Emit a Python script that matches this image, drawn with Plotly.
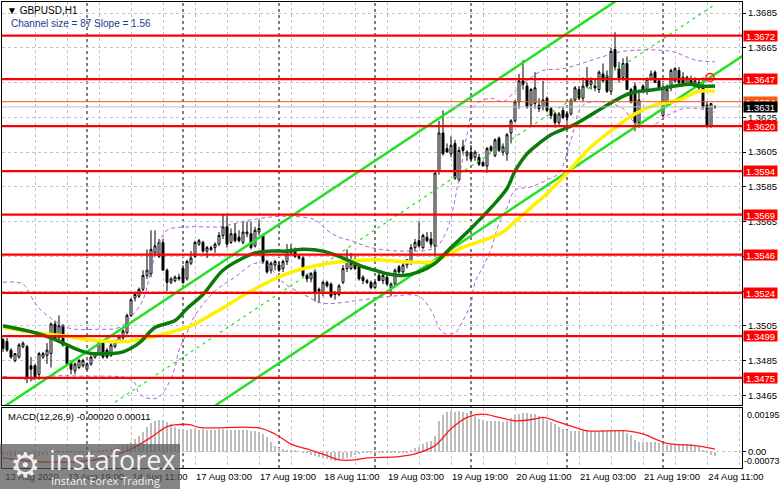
import plotly.graph_objects as go

# ---- data (GBPUSD H1, 13 Aug 03:00 .. 24 Aug 13:00) ----
opens = [1.3497, 1.3496, 1.3491, 1.3485, 1.3487, 1.3493, 1.3493, 1.3482, 1.3482, 1.3477,
         1.3487, 1.3488, 1.3489, 1.3506, 1.3498, 1.3505, 1.3493, 1.3484, 1.3479, 1.3481,
         1.3482, 1.3480, 1.3483, 1.3487, 1.3489, 1.3495, 1.3491, 1.3488, 1.3493, 1.3496,
         1.3498, 1.3501, 1.3511, 1.3521, 1.3522, 1.3526, 1.3534, 1.3535, 1.3547, 1.3545,
         1.3553, 1.3537, 1.3530, 1.3531, 1.3533, 1.3538, 1.3532, 1.3541, 1.3545, 1.3552,
         1.3553, 1.3548, 1.3550, 1.3550, 1.3552, 1.3557, 1.3562, 1.3553, 1.3558, 1.3556,
         1.3553, 1.3558, 1.3558, 1.3551, 1.3559, 1.3557, 1.3542, 1.3537, 1.3540, 1.3540,
         1.3538, 1.3542, 1.3547, 1.3549, 1.3544, 1.3544, 1.3534, 1.3532, 1.3536, 1.3526,
         1.3524, 1.3530, 1.3529, 1.3524, 1.3523, 1.3530, 1.3538, 1.3538, 1.3541, 1.3539,
         1.3533, 1.3530, 1.3530, 1.3527, 1.3534, 1.3531, 1.3533, 1.3527, 1.3529, 1.3539,
         1.3536, 1.3540, 1.3542, 1.3550, 1.3554, 1.3550, 1.3556, 1.3555, 1.3551, 1.3594,
         1.3616, 1.3607, 1.3604, 1.3610, 1.3589, 1.3608, 1.3603, 1.3605, 1.3602, 1.3602,
         1.3599, 1.3597, 1.3608, 1.3603, 1.3613, 1.3605, 1.3604, 1.3616, 1.3623, 1.3634,
         1.3646, 1.3643, 1.3632, 1.3633, 1.3632, 1.3631, 1.3636, 1.3630, 1.3627, 1.3622,
         1.3629, 1.3627, 1.3627, 1.3635, 1.3641, 1.3636, 1.3647, 1.3644, 1.3643, 1.3641,
         1.3650, 1.3649, 1.3640, 1.3664, 1.3653, 1.3648, 1.3656, 1.3641, 1.3643, 1.3622,
         1.3643, 1.3640, 1.3647, 1.3651, 1.3646, 1.3626, 1.3633, 1.3642, 1.3646, 1.3652,
         1.3648, 1.3644, 1.3647, 1.3644, 1.3645, 1.3643, 1.3632, 1.3620, 1.3631]
highs = [1.3498, 1.3498, 1.3492, 1.3489, 1.3495, 1.3496, 1.3494, 1.3487, 1.3483, 1.3490,
         1.3490, 1.3495, 1.3507, 1.3508, 1.3511, 1.3506, 1.3494, 1.3485, 1.3484, 1.3486,
         1.3486, 1.3484, 1.3488, 1.3489, 1.3497, 1.3496, 1.3492, 1.3495, 1.3497, 1.3500,
         1.3503, 1.3512, 1.3521, 1.3524, 1.3527, 1.3537, 1.3549, 1.3560, 1.3560, 1.3555,
         1.3555, 1.3538, 1.3533, 1.3534, 1.3535, 1.3540, 1.3543, 1.3548, 1.3554, 1.3555,
         1.3554, 1.3551, 1.3551, 1.3553, 1.3559, 1.3569, 1.3569, 1.3561, 1.3564, 1.3560,
         1.3565, 1.3565, 1.3565, 1.3562, 1.3566, 1.3558, 1.3543, 1.3542, 1.3543, 1.3542,
         1.3543, 1.3552, 1.3552, 1.3550, 1.3546, 1.3545, 1.3535, 1.3536, 1.3537, 1.3527,
         1.3531, 1.3531, 1.3530, 1.3525, 1.3529, 1.3540, 1.3549, 1.3547, 1.3545, 1.3540,
         1.3534, 1.3532, 1.3531, 1.3531, 1.3536, 1.3535, 1.3534, 1.3530, 1.3538, 1.3540,
         1.3541, 1.3543, 1.3552, 1.3555, 1.3565, 1.3558, 1.3559, 1.3559, 1.3593, 1.3623,
         1.3629, 1.3610, 1.3614, 1.3612, 1.3608, 1.3612, 1.3606, 1.3609, 1.3606, 1.3604,
         1.3600, 1.3608, 1.3609, 1.3613, 1.3614, 1.3610, 1.3616, 1.3624, 1.3635, 1.3650,
         1.3658, 1.3645, 1.3642, 1.3651, 1.3636, 1.3646, 1.3637, 1.3631, 1.3628, 1.3628,
         1.3631, 1.3628, 1.3636, 1.3643, 1.3643, 1.3648, 1.3654, 1.3648, 1.3647, 1.3652,
         1.3656, 1.3652, 1.3665, 1.3674, 1.3657, 1.3659, 1.3660, 1.3642, 1.3645, 1.3641,
         1.3644, 1.3648, 1.3652, 1.3652, 1.3647, 1.3644, 1.3644, 1.3653, 1.3654, 1.3654,
         1.3651, 1.3649, 1.3649, 1.3648, 1.3647, 1.3648, 1.3634, 1.3633, 1.3632]
lows = [1.3490, 1.3490, 1.3486, 1.3484, 1.3486, 1.3492, 1.3472, 1.3473, 1.3474, 1.3474,
        1.3486, 1.3483, 1.3481, 1.3496, 1.3497, 1.3493, 1.3482, 1.3477, 1.3477, 1.3480,
        1.3481, 1.3480, 1.3482, 1.3486, 1.3488, 1.3486, 1.3486, 1.3487, 1.3492, 1.3495,
        1.3497, 1.3500, 1.3510, 1.3519, 1.3521, 1.3525, 1.3532, 1.3533, 1.3545, 1.3544,
        1.3537, 1.3525, 1.3529, 1.3530, 1.3531, 1.3529, 1.3531, 1.3540, 1.3544, 1.3551,
        1.3547, 1.3544, 1.3548, 1.3547, 1.3551, 1.3555, 1.3550, 1.3552, 1.3553, 1.3553,
        1.3552, 1.3556, 1.3549, 1.3550, 1.3557, 1.3541, 1.3535, 1.3535, 1.3537, 1.3536,
        1.3536, 1.3540, 1.3546, 1.3544, 1.3543, 1.3533, 1.3530, 1.3530, 1.3519, 1.3518,
        1.3522, 1.3527, 1.3521, 1.3520, 1.3522, 1.3529, 1.3536, 1.3537, 1.3537, 1.3531,
        1.3529, 1.3529, 1.3526, 1.3526, 1.3531, 1.3529, 1.3528, 1.3522, 1.3528, 1.3535,
        1.3535, 1.3538, 1.3540, 1.3548, 1.3550, 1.3549, 1.3553, 1.3550, 1.3545, 1.3592,
        1.3603, 1.3605, 1.3602, 1.3589, 1.3588, 1.3604, 1.3600, 1.3600, 1.3600, 1.3597,
        1.3597, 1.3593, 1.3605, 1.3602, 1.3605, 1.3603, 1.3600, 1.3610, 1.3622, 1.3630,
        1.3641, 1.3630, 1.3620, 1.3630, 1.3628, 1.3629, 1.3628, 1.3624, 1.3619, 1.3620,
        1.3624, 1.3622, 1.3626, 1.3634, 1.3635, 1.3634, 1.3642, 1.3641, 1.3640, 1.3639,
        1.3645, 1.3639, 1.3638, 1.3652, 1.3645, 1.3646, 1.3641, 1.3633, 1.3617, 1.3619,
        1.3639, 1.3638, 1.3646, 1.3645, 1.3641, 1.3625, 1.3632, 1.3640, 1.3645, 1.3644,
        1.3644, 1.3643, 1.3643, 1.3642, 1.3640, 1.3630, 1.3619, 1.3619, 1.3630]
closes = [1.3492, 1.3491, 1.3487, 1.3489, 1.3494, 1.3495, 1.3475, 1.3480, 1.3475, 1.3489,
          1.3489, 1.3491, 1.3506, 1.3497, 1.3505, 1.3494, 1.3483, 1.3480, 1.3483, 1.3485,
          1.3485, 1.3483, 1.3487, 1.3489, 1.3496, 1.3487, 1.3487, 1.3494, 1.3496, 1.3499,
          1.3502, 1.3511, 1.3520, 1.3523, 1.3526, 1.3534, 1.3537, 1.3549, 1.3551, 1.3553,
          1.3537, 1.3530, 1.3532, 1.3533, 1.3532, 1.3530, 1.3542, 1.3544, 1.3553, 1.3554,
          1.3548, 1.3550, 1.3549, 1.3552, 1.3557, 1.3562, 1.3552, 1.3558, 1.3554, 1.3554,
          1.3559, 1.3559, 1.3550, 1.3560, 1.3561, 1.3542, 1.3536, 1.3541, 1.3542, 1.3537,
          1.3542, 1.3548, 1.3549, 1.3545, 1.3545, 1.3534, 1.3532, 1.3535, 1.3524, 1.3525,
          1.3530, 1.3528, 1.3522, 1.3523, 1.3528, 1.3538, 1.3542, 1.3541, 1.3538, 1.3532,
          1.3531, 1.3531, 1.3527, 1.3530, 1.3531, 1.3534, 1.3529, 1.3529, 1.3537, 1.3536,
          1.3540, 1.3543, 1.3550, 1.3553, 1.3551, 1.3557, 1.3554, 1.3552, 1.3593, 1.3616,
          1.3604, 1.3605, 1.3609, 1.3590, 1.3606, 1.3606, 1.3605, 1.3601, 1.3605, 1.3598,
          1.3597, 1.3607, 1.3606, 1.3612, 1.3606, 1.3608, 1.3615, 1.3623, 1.3634, 1.3646,
          1.3644, 1.3631, 1.3641, 1.3642, 1.3630, 1.3635, 1.3629, 1.3626, 1.3622, 1.3627,
          1.3625, 1.3625, 1.3635, 1.3642, 1.3636, 1.3643, 1.3643, 1.3646, 1.3642, 1.3651,
          1.3646, 1.3640, 1.3663, 1.3654, 1.3647, 1.3656, 1.3641, 1.3634, 1.3622, 1.3635,
          1.3640, 1.3647, 1.3650, 1.3645, 1.3641, 1.3642, 1.3641, 1.3652, 1.3653, 1.3645,
          1.3644, 1.3648, 1.3644, 1.3646, 1.3642, 1.3631, 1.3620, 1.3633, 1.3631]

# moving averages and bands, read at knots (bar number, price)
ma_green_bar = [0, 8, 12, 16, 19, 22, 27, 30, 34, 38, 43, 46, 50, 55, 60, 63, 67, 71, 75, 80, 84, 87,
                90, 93, 96, 100, 104, 108, 112, 117, 122, 126, 128, 131, 134, 137, 143, 151, 157,
                163, 168, 172, 174, 178]
ma_green = [1.3505, 1.3501, 1.3498, 1.3494, 1.3491, 1.3489, 1.3489, 1.3490, 1.3495, 1.3504, 1.3508,
            1.3515, 1.3523, 1.3537, 1.3544, 1.3547, 1.3548, 1.3548, 1.3549, 1.3548, 1.3545, 1.3542,
            1.3539, 1.3537, 1.3535, 1.3534, 1.3536, 1.3541, 1.3550, 1.3561, 1.3573, 1.3584, 1.3594,
            1.3604, 1.3610, 1.3615, 1.3621, 1.3632, 1.3639, 1.3641, 1.3643, 1.3644, 1.3643, 1.3643]
ma_yellow_bar = [0, 8, 12, 16, 21, 27, 31, 34, 38, 43, 47, 54, 62, 71, 79, 85, 93, 100, 108, 111, 116,
                 121, 125, 128, 132, 136, 141, 147, 153, 158, 163, 169, 174, 178]
ma_yellow = [1.3504, 1.3501, 1.3500, 1.3499, 1.3497, 1.3496, 1.3496, 1.3497, 1.3499, 1.3502, 1.3505,
             1.3514, 1.3525, 1.3535, 1.3540, 1.3542, 1.3543, 1.3542, 1.3542, 1.3546, 1.3551, 1.3555,
             1.3559, 1.3565, 1.3573, 1.3581, 1.3593, 1.3608, 1.3619, 1.3627, 1.3632, 1.3635, 1.3640,
             1.3640]
band_up_bar = [0, 5, 8, 10, 16, 24, 29, 32, 35, 37, 39, 41, 47, 54, 62, 70, 78, 81, 84, 87, 92, 100,
               108, 111, 114, 116, 118, 122, 125, 128, 132, 135, 140, 150, 155, 167, 173, 178]
band_up = [1.3530, 1.3529, 1.3518, 1.3513, 1.3504, 1.3503, 1.3504, 1.3510, 1.3520, 1.3537, 1.3552,
           1.3560, 1.3562, 1.3562, 1.3566, 1.3568, 1.3566, 1.3560, 1.3556, 1.3554, 1.3550, 1.3548,
           1.3550, 1.3560, 1.3590, 1.3615, 1.3632, 1.3636, 1.3634, 1.3640, 1.3648, 1.3652, 1.3653,
           1.3660, 1.3663, 1.3663, 1.3658, 1.3657]
band_lo_bar = [0, 8, 12, 20, 31, 33, 34, 37, 39, 41, 43, 44, 46, 48, 53, 58, 63, 66, 70, 76, 80, 90,
               97, 104, 107, 110, 113, 115, 117, 118, 120, 122, 124, 126, 128, 132, 136, 139, 142,
               145, 150, 155, 158, 162, 166, 170, 174, 178]
band_lo = [1.3476, 1.3474, 1.3476, 1.3476, 1.3475, 1.3472, 1.3466, 1.3463, 1.3464, 1.3470, 1.3481,
           1.3491, 1.3501, 1.3511, 1.3525, 1.3533, 1.3541, 1.3540, 1.3530, 1.3522, 1.3518, 1.3520,
           1.3522, 1.3522, 1.3514, 1.3501, 1.3501, 1.3508, 1.3518, 1.3530, 1.3539, 1.3549, 1.3564,
           1.3573, 1.3583, 1.3585, 1.3589, 1.3593, 1.3612, 1.3632, 1.3634, 1.3630, 1.3622, 1.3620,
           1.3626, 1.3630, 1.3630, 1.3628]

# regression channel end points
chan_up_bar, chan_up = [-1, 153], [1.34565, 1.36916]
chan_mid_bar, chan_mid = [28, 178], [1.34610, 1.36900]
chan_lo_bar, chan_lo = [53, 185], [1.34590, 1.36606]

levels = [1.3672, 1.3647, 1.3620, 1.3594, 1.3569, 1.3546, 1.3524, 1.3499, 1.3475]
ask_line, bid_line = 1.3634, 1.3631
alert_bar, alert_price = 176.75, 1.3648

price_ticks = [1.3465, 1.3485, 1.3505, 1.3525, 1.3545, 1.3565, 1.3585, 1.3605, 1.3625, 1.3645,
               1.3665, 1.3685]
hidden_ticks = [1.3525, 1.3645]   # fully covered by level tags in the original

macd_hist = [-0.00015, -0.00017, -0.00019, -0.00018, -0.00015, -0.00014, -0.00019, -0.00022, -0.00024, -0.00020,
             -0.00017, -0.00014, -0.00007, -0.00003, -0.00002, -0.00003, -0.00007, -0.00008, -0.00008, -0.00006,
             -0.00004, -0.00003, -0.00002, 0.00000, 0.00003, 0.00004, 0.00010, 0.00014, 0.00017, 0.00020,
             0.00025, 0.00034, 0.00044, 0.00058, 0.00071, 0.00089, 0.00110, 0.00127, 0.00137, 0.00142,
             0.00140, 0.00131, 0.00123, 0.00112, 0.00103, 0.00100, 0.00098, 0.00100, 0.00099, 0.00097,
             0.00100, 0.00098, 0.00097, 0.00097, 0.00099, 0.00100, 0.00098, 0.00097, 0.00097, 0.00098,
             0.00097, 0.00095, 0.00093, 0.00091, 0.00088, 0.00081, 0.00064, 0.00042, 0.00025, 0.00015,
             0.00010, 0.00008, 0.00007, 0.00003, 0.00000, -0.00003, -0.00008, -0.00014, -0.00020, -0.00025,
             -0.00030, -0.00034, -0.00037, -0.00040, -0.00038, -0.00034, -0.00029, -0.00022, -0.00015, -0.00010,
             -0.00007, -0.00004, -0.00003, -0.00003, -0.00003, -0.00003, -0.00003, -0.00004, -0.00003, -0.00003,
             -0.00005, -0.00002, 0.00008, 0.00015, 0.00022, 0.00034, 0.00044, 0.00049, 0.00068, 0.00136,
             0.00165, 0.00178, 0.00180, 0.00176, 0.00180, 0.00175, 0.00173, 0.00168, 0.00158, 0.00147,
             0.00140, 0.00138, 0.00137, 0.00136, 0.00136, 0.00134, 0.00137, 0.00149, 0.00163, 0.00169,
             0.00172, 0.00172, 0.00169, 0.00168, 0.00161, 0.00152, 0.00142, 0.00132, 0.00124, 0.00112,
             0.00102, 0.00097, 0.00093, 0.00093, 0.00093, 0.00094, 0.00095, 0.00093, 0.00093, 0.00094,
             0.00095, 0.00094, 0.00095, 0.00097, 0.00095, 0.00091, 0.00085, 0.00075, 0.00054, 0.00044,
             0.00042, 0.00041, 0.00042, 0.00042, 0.00039, 0.00032, 0.00030, 0.00032, 0.00033, 0.00034,
             0.00033, 0.00034, 0.00032, 0.00030, 0.00025, 0.00008, -0.00007, -0.00015, -0.00020]
signal_bar = [0, 11, 24, 32, 37, 41, 43, 47, 49, 64, 68, 72, 76, 81, 84, 88, 91, 99, 103, 108, 112,
              116, 120, 124, 128, 133, 135, 138, 143, 146, 156, 160, 164, 166, 174, 178]
signal = [-0.00028, -0.00047, -0.00033, 0.00012, 0.00064, 0.00112, 0.00120, 0.00120, 0.00108, 0.00106,
          0.00079, 0.00034, 0.00012, -0.00018, -0.00037, -0.00037, -0.00028, -0.00022, -0.00010, 0.00027,
          0.00102, 0.00153, 0.00168, 0.00153, 0.00138, 0.00146, 0.00153, 0.00138, 0.00108, 0.00093,
          0.00093, 0.00079, 0.00049, 0.00037, 0.00025, 0.00011]

day_breaks = [21, 45, 69, 93, 117, 141, 165]
label_bars = [0, 16, 32, 48, 64, 80, 96, 112, 128, 144, 160, 176]
label_text = ["13 Aug 2020", "13 Aug 19:00", "14 Aug 11:00", "17 Aug 03:00", "17 Aug 19:00",
              "18 Aug 11:00", "19 Aug 03:00", "19 Aug 19:00", "20 Aug 11:00", "21 Aug 03:00",
              "21 Aug 19:00", "24 Aug 11:00"]

# ---- layout helpers (pixel -> paper) ----
W, H = 781, 489
ML, MR, MT, MB = 2, 39, 2, 21
PW, PH = W - ML - MR, H - MT - MB


def px_x(x):
    return (x - ML) / PW


def px_y(y):
    return (H - MB - y) / PH


FONT = "Liberation Sans, Arial, sans-serif"
GRID = "#C4C4C4"
bars = list(range(len(closes)))

fig = go.Figure()

for bx, by in [(band_up_bar, band_up), (band_lo_bar, band_lo)]:
    fig.add_trace(go.Scatter(x=bx, y=by, mode="lines", line=dict(color="#B45FDB", width=1, dash="4px,3px",
                                                                  shape="spline"), hoverinfo="skip"))

fig.add_trace(go.Candlestick(
    x=bars, open=opens, high=highs, low=lows, close=closes,
    increasing=dict(line=dict(color="black", width=1), fillcolor="white"),
    decreasing=dict(line=dict(color="black", width=1), fillcolor="black"),
    hoverinfo="skip"))

for bx, by, dash in [(chan_up_bar, chan_up, "solid"), (chan_lo_bar, chan_lo, "solid"),
                     (chan_mid_bar, chan_mid, "3px,4px")]:
    fig.add_trace(go.Scatter(x=bx, y=by, mode="lines",
                             line=dict(color="#22E022", width=2.5 if dash == "solid" else 1.2, dash=dash),
                             hoverinfo="skip"))

fig.add_trace(go.Scatter(x=ma_yellow_bar, y=ma_yellow, mode="lines",
                         line=dict(color="#FFF000", width=3.5, shape="spline"), hoverinfo="skip"))
fig.add_trace(go.Scatter(x=ma_green_bar, y=ma_green, mode="lines",
                         line=dict(color="#0A7A0A", width=3.5, shape="spline"), hoverinfo="skip"))
fig.add_trace(go.Scatter(x=[alert_bar], y=[alert_price], mode="markers",
                         marker=dict(symbol="circle-open", size=8, color="#FF2020", line=dict(width=1.5)),
                         hoverinfo="skip"))

# MACD panel
fig.add_trace(go.Bar(x=bars, y=macd_hist, marker=dict(color="#BDBDBD", line=dict(width=0)), width=0.55,
                     xaxis="x2", yaxis="y2", hoverinfo="skip"))
fig.add_trace(go.Scatter(x=signal_bar, y=signal, mode="lines", line=dict(color="#FF1A1A", width=1.3,
                                                                         shape="spline"),
                         xaxis="x2", yaxis="y2", hoverinfo="skip"))

shapes = []
for d in day_breaks:
    shapes.append(dict(type="line", xref="x", yref="paper", x0=d, x1=d, y0=0, y1=1,
                       line=dict(color="black", width=1, dash="3px,3px"), layer="below"))
shapes.append(dict(type="line", xref="paper", yref="y", x0=0, x1=1, y0=bid_line, y1=bid_line,
                   line=dict(color="#BEBEBE", width=1)))
shapes.append(dict(type="line", xref="paper", yref="y", x0=0, x1=1, y0=ask_line, y1=ask_line,
                   line=dict(color="#FF4A1A", width=1)))
for lv in levels:
    shapes.append(dict(type="line", xref="paper", yref="y", x0=0, x1=1, y0=lv, y1=lv,
                       line=dict(color="#FF0000", width=2.2)))
# instaforex watermark box
shapes.append(dict(type="rect", xref="paper", yref="paper", x0=px_x(0), x1=px_x(180), y0=px_y(489),
                   y1=px_y(444), fillcolor="rgba(85,85,85,0.72)", line=dict(width=0), layer="above"))

ann = []


def price_tag(y, text, bg, yref="y"):
    ann.append(dict(xref="paper", yref=yref, x=1, y=y, xanchor="left", yanchor="middle", xshift=1,
                    text=text, showarrow=False, bgcolor=bg, width=33, height=10, borderpad=0,
                    font=dict(family=FONT, size=9.5, color="white")))


for lv in levels:
    price_tag(lv, f"{lv:.4f}", "#FF0000")
price_tag(ask_line, f"{ask_line:.4f}", "#FF5A14")
price_tag(bid_line, f"{bid_line:.4f}", "black")

ann += [
    dict(xref="paper", yref="paper", x=px_x(5), y=px_y(10), xanchor="left", yanchor="middle",
         text="▼ GBPUSD,H1", showarrow=False, font=dict(family=FONT, size=10, color="black")),
    dict(xref="paper", yref="paper", x=px_x(9), y=px_y(23), xanchor="left", yanchor="middle",
         text="Channel size = 87 Slope = 1.56", showarrow=False, font=dict(family=FONT, size=10, color="#1C3A8C")),
    dict(xref="paper", yref="paper", x=px_x(6), y=px_y(416), xanchor="left", yanchor="middle",
         text="MACD(12,26,9) -0.00020 0.00011", showarrow=False, font=dict(family=FONT, size=9.5, color="black")),
    dict(xref="paper", yref="y2", x=1, y=0.00195, xanchor="left", yanchor="top", xshift=3,
         text="0.00195", showarrow=False, font=dict(family=FONT, size=9, color="black")),
    dict(xref="paper", yref="y2", x=1, y=-0.00073, xanchor="left", yanchor="bottom", xshift=0,
         text="-0.00073", showarrow=False, font=dict(family=FONT, size=9, color="black")),
    dict(xref="paper", yref="paper", x=px_x(25), y=px_y(465), xanchor="center", yanchor="middle",
         text="⚙", showarrow=False, font=dict(family="DejaVu Sans", size=34, color="rgba(255,255,255,0.9)")),
    dict(xref="paper", yref="paper", x=px_x(47), y=px_y(459), xanchor="left", yanchor="middle",
         text="instaforex", showarrow=False, font=dict(family="Open Sans", size=27, color="rgba(255,255,255,0.92)")),
    dict(xref="paper", yref="paper", x=px_x(49), y=px_y(480), xanchor="left", yanchor="middle",
         text="Instant Forex Trading", showarrow=False,
         font=dict(family="Open Sans", size=11, color="rgba(255,255,255,0.9)")),
]

grid_bars = list(range(0, 185, 8))
grid_text = [label_text[label_bars.index(b)] if b in label_bars else "" for b in grid_bars]
price_text = ["" if t in hidden_ticks else f"{t:.4f}" for t in price_ticks]

xcommon = dict(range=[-0.25, 184.75], showgrid=True, gridcolor=GRID, griddash="3px,3px", gridwidth=1,
               tickmode="array", tickvals=grid_bars, zeroline=False, showline=True, linecolor="black",
               linewidth=1, mirror=True)

fig.update_layout(
    width=W, height=H, margin=dict(l=ML, r=MR, t=MT, b=MB),
    paper_bgcolor="white", plot_bgcolor="white", showlegend=False,
    font=dict(family=FONT, size=9.5, color="black"),
    xaxis=dict(**xcommon, domain=[0, 1], anchor="y", matches="x2", showticklabels=False,
               rangeslider=dict(visible=False)),
    xaxis2=dict(**xcommon, domain=[0, 1], anchor="y2", ticktext=grid_text, ticks="",
                ticklabelshift=29, tickfont=dict(family=FONT, size=9.5, color="black")),
    yaxis=dict(domain=[px_y(405), 1], range=[1.34594, 1.36914], side="right", tickmode="array",
               tickvals=price_ticks, ticktext=price_text,
               showgrid=True, gridcolor=GRID, griddash="3px,3px", ticks="outside",
               ticklen=3, tickcolor="black", showline=True, linecolor="black", mirror=True, zeroline=False,
               tickfont=dict(family=FONT, size=9.5, color="black")),
    yaxis2=dict(domain=[0, px_y(408)], range=[-0.00073, 0.00195], side="right", tickvals=[0],
                ticktext=["0.00"], showgrid=True, gridcolor=GRID, griddash="3px,3px", ticks="outside",
                ticklen=3, tickcolor="black", showline=True, linecolor="black", mirror=True, zeroline=False,
                tickfont=dict(family=FONT, size=9.5, color="black")),
    shapes=shapes, annotations=ann, bargap=0,
)

fig.write_html("out.html", config={"displayModeBar": False},
               post_script="document.body.style.margin='0';")
